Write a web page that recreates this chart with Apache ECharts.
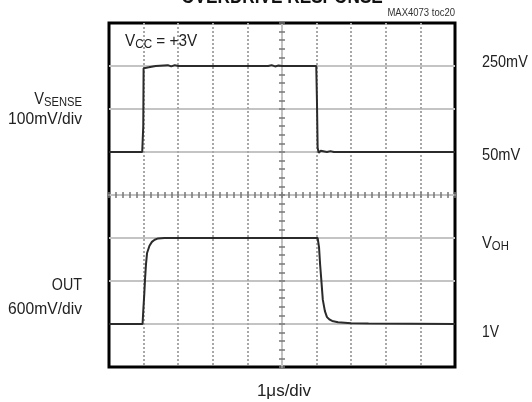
<!DOCTYPE html>
<html>
<head>
<meta charset="utf-8">
<script src="https://cdn.jsdelivr.net/npm/echarts@6/dist/echarts.min.js"></script>
<style>html,body{margin:0;padding:0;background:#fff}#c{width:532px;height:402px}</style>
</head>
<body>
<div id="c"></div>
<script>
// Time axis in µs (1 µs/div, 10 divisions); vertical values in screen divisions (0..8)
const xDivs = [0, 10];
const yDivs = [0, 8];
// VSENSE trace (100mV/div, 50mV baseline at div 5, 250mV at div 7)
const vsenseT = [0, 0.96, 0.99, 1.0, 1.08, 1.15, 1.35, 1.7, 1.8, 1.9, 2.0, 2.1, 3.0, 4.0, 4.6, 4.7, 4.8, 4.9, 5.0, 5.6, 5.99, 6.01, 6.03, 6.06, 6.12, 6.3, 6.4, 6.5, 10];
const vsenseV = [5, 5, 5.6, 6.95, 6.96, 6.97, 7.0, 7.02, 6.99, 7.02, 7.0, 7.0, 7.0, 7.0, 7.0, 7.02, 6.99, 7.01, 7.0, 7.0, 7.0, 6.2, 5.1, 4.98, 5.03, 5.0, 5.02, 5.0, 5.0];
// OUT trace (600mV/div, 1V baseline at div 1, VOH at div 3)
const outT = [0, 0.97, 0.99, 1.02, 1.04, 1.07, 1.1, 1.17, 1.24, 1.32, 1.42, 1.6, 6.03, 6.07, 6.1, 6.13, 6.18, 6.24, 6.3, 6.38, 6.45, 6.62, 7.0, 7.5, 10];
const outV = [1, 1, 1.3, 1.7, 2.02, 2.4, 2.65, 2.82, 2.91, 2.96, 2.99, 3.0, 3.0, 2.79, 2.4, 2.09, 1.56, 1.3, 1.16, 1.1, 1.07, 1.04, 1.02, 1.01, 1.0];

const FONT = "'Liberation Sans', Arial, sans-serif";
const zip = (a, b) => a.map((t, i) => [t, b[i]]);

const chart = echarts.init(document.getElementById('c'), null, {renderer: 'canvas'});

const hColors = [];
for (let i = 0; i <= 8; i++) hColors.push((i === 0 || i === 4 || i === 8) ? 'rgba(0,0,0,0)' : '#c4c4c4');
const vColors = [];
for (let i = 0; i <= 10; i++) vColors.push((i === 0 || i === 5 || i === 10) ? 'rgba(0,0,0,0)' : '#a8a8a8');

function centerX(inside, offset) {
  return {
    type: 'value', gridIndex: 0, min: xDivs[0], max: xDivs[1], interval: 1,
    position: 'bottom', offset: offset,
    axisLine: {show: true, onZero: false, lineStyle: {color: '#c0c0c0', width: 2, type: [2, 2]}},
    axisTick: {show: true, inside: inside, length: 3, lineStyle: {color: '#777', width: 1.5}},
    minorTick: {show: true, splitNumber: 5, length: 3, lineStyle: {color: '#777', width: 1.5}},
    axisLabel: {show: false}, splitLine: {show: false}
  };
}
function centerY(inside, offset) {
  return {
    type: 'value', gridIndex: 0, min: yDivs[0], max: yDivs[1], interval: 1,
    position: 'left', offset: offset,
    axisLine: {show: true, onZero: false, lineStyle: {color: '#c0c0c0', width: 2, type: [2, 2]}},
    axisTick: {show: true, inside: inside, length: 3, lineStyle: {color: '#777', width: 1.5}},
    minorTick: {show: true, splitNumber: 5, length: 3, lineStyle: {color: '#777', width: 1.5}},
    axisLabel: {show: false}, splitLine: {show: false}
  };
}

const text = (x, y, t, sx, opts) => ({
  type: 'text', x: x, y: y, z: 10, scaleX: sx,
  style: Object.assign({text: t, font: '17px ' + FONT, fill: '#222', align: 'left', verticalAlign: 'middle'}, opts || {})
});
const richStyles = {
  a: {fontSize: 17, fontFamily: FONT, fill: '#222'},
  s: {fontSize: 13, fontFamily: FONT, fill: '#222', padding: [7, 0, 0, 0]}
};
const richText = (x, y, t, sx, align) => ({
  type: 'text', x: x, y: y, z: 10, scaleX: sx,
  style: {text: t, font: '17px ' + FONT, fill: '#222', align: align, verticalAlign: 'middle', rich: richStyles}
});

chart.setOption({
  animation: false,
  backgroundColor: '#fff',
  grid: {left: 109, top: 23, width: 346, height: 344, show: true, borderColor: '#000', borderWidth: 3, backgroundColor: 'transparent', containLabel: false},
  xAxis: [
    {type: 'value', min: xDivs[0], max: xDivs[1], interval: 1, position: 'bottom',
     axisLine: {show: false, onZero: false}, axisTick: {show: false}, axisLabel: {show: false},
     splitLine: {show: true, lineStyle: {color: vColors, width: 2, type: [2, 2]}}},
    centerX(true, -172),
    centerX(false, -172)
  ],
  yAxis: [
    {type: 'value', min: yDivs[0], max: yDivs[1], interval: 1, position: 'left',
     axisLine: {show: false, onZero: false}, axisTick: {show: false}, axisLabel: {show: false},
     splitLine: {show: true, lineStyle: {color: hColors, width: 2}}},
    centerY(true, -173),
    centerY(false, -173)
  ],
  series: [
    {type: 'line', xAxisIndex: 0, yAxisIndex: 0, data: zip(vsenseT, vsenseV), showSymbol: false, symbol: 'none',
     lineStyle: {color: '#2b2b2b', width: 2}, z: 5},
    {type: 'line', xAxisIndex: 0, yAxisIndex: 0, data: zip(outT, outV), showSymbol: false, symbol: 'none',
     lineStyle: {color: '#2b2b2b', width: 2}, z: 5}
  ],
  graphic: [
    text(282, -3, 'OVERDRIVE RESPONSE', 0.86, {font: 'bold 20px ' + FONT, align: 'center', fill: '#111'}),
    text(455, 13, 'MAX4073 toc20', 0.95, {font: '10px ' + FONT, align: 'right', fill: '#333'}),
    richText(125, 41, '{a|V}{s|CC}{a| = +3V}', 0.9, 'left'),
    richText(82, 99, '{a|V}{s|SENSE}', 0.86, 'right'),
    text(82, 119, '100mV/div', 0.92, {align: 'right'}),
    text(82, 285, 'OUT', 0.84, {align: 'right'}),
    text(82, 309, '600mV/div', 0.92, {align: 'right'}),
    text(482, 62, '250mV', 0.85),
    text(482, 155, '50mV', 0.86),
    richText(482, 243, '{a|V}{s|OH}', 0.87, 'left'),
    text(482, 332, '1V', 0.82),
    text(284, 391, '1μs/div', 1.0, {align: 'center'})
  ]
});
</script>
</body>
</html>
